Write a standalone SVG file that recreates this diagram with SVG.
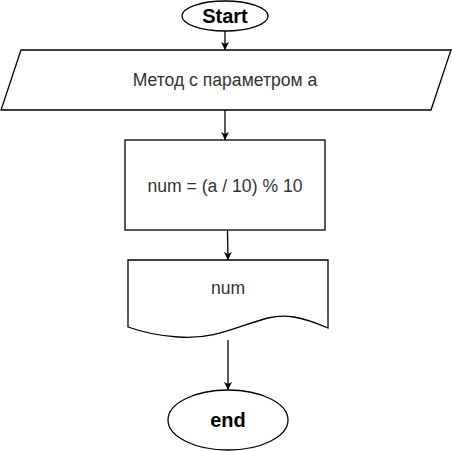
<svg xmlns="http://www.w3.org/2000/svg" width="452" height="451" viewBox="0 0 452 451">
<style>
.s{fill:#fff;stroke:#000;stroke-width:1.3}
.t{font-family:"Liberation Sans",Arial,sans-serif;font-size:17.6px;fill:#333;text-anchor:middle}
.b{font-family:"Liberation Sans",Arial,sans-serif;font-size:20px;font-weight:bold;fill:#000;text-anchor:middle}
.c{fill:none;stroke:#000;stroke-width:1.3}
</style>
<defs>
<marker id="a" markerWidth="10" markerHeight="10" refX="9" refY="5" orient="auto" markerUnits="userSpaceOnUse">
<path d="M1,1 L9,5 L1,9 L3,5 Z" fill="#000"/>
</marker>
</defs>
<rect width="452" height="451" fill="#fff"/>
<g id="connectors">
<line class="c" x1="225" y1="31" x2="225" y2="50" marker-end="url(#a)"/>
<line class="c" x1="225" y1="110" x2="225" y2="140" marker-end="url(#a)"/>
<line class="c" x1="227.5" y1="230" x2="228" y2="260" marker-end="url(#a)"/>
<line class="c" x1="228" y1="340" x2="228" y2="390" marker-end="url(#a)"/>
</g>
<g id="start">
<ellipse class="s" cx="225" cy="16" rx="43" ry="15"/>
<text class="b" x="225" y="23">Start</text>
</g>
<g id="input">
<polygon class="s" points="21,50 451,50 431,110 1,110"/>
<text class="t" x="225" y="86">Метод с параметром а</text>
</g>
<g id="process">
<rect class="s" x="125" y="140" width="200" height="90"/>
<text class="t" x="225" y="192">num = (a / 10) % 10</text>
</g>
<g id="output">
<path class="s" d="M128,260 H328 V328 C300,316 285,314 268,318 C240,325 215,340 178,337 C160,336 145,333 128,327 Z"/>
<text class="t" x="228" y="294">num</text>
</g>
<g id="end">
<ellipse class="s" cx="228" cy="420" rx="60" ry="30"/>
<text class="b" x="228" y="427">end</text>
</g>
</svg>
